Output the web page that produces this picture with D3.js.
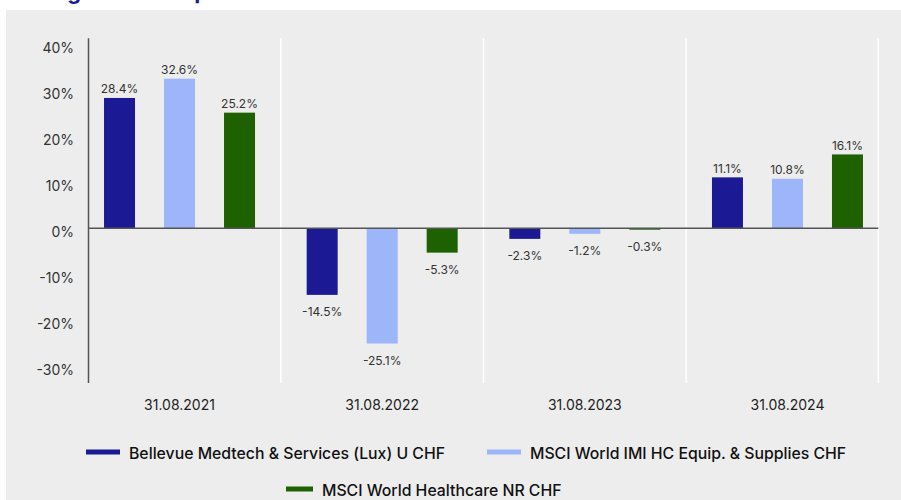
<!DOCTYPE html>
<html>
<head>
<meta charset="utf-8">
<script src="https://cdn.jsdelivr.net/npm/d3@7"></script>
<style>
  body { margin: 0; background: #fff; }
  text { font-family: Inter, "Noto Sans", sans-serif; }
</style>
</head>
<body>
<div class="bar_chart"></div>
<script>
// data
const categories = ["31.08.2021", "31.08.2022", "31.08.2023", "31.08.2024"];
const series = [
  "Bellevue Medtech & Services (Lux) U CHF",
  "MSCI World IMI HC Equip. & Supplies CHF",
  "MSCI World Healthcare NR CHF",
];
const fundValues = [28.4, -14.5, -2.3, 11.1];
const equipValues = [32.6, -25.1, -1.2, 10.8];
const healthValues = [25.2, -5.3, -0.3, 16.1];
const yTicks = [-30, -20, -10, 0, 10, 20, 30, 40];

const colors = ["#1b1a94", "#9db5f9", "#1e6100"];
const seriesValues = [fundValues, equipValues, healthValues];

const width = 901, height = 500;
const axisX = 88.5, plotRight = 878.3, plotTop = 38.3, plotBottom = 383;

var svg = d3.select(".bar_chart")
  .append("svg")
  .attr("width", width)
  .attr("height", height);

// panel background
svg.append("rect")
  .attr("x", 6).attr("y", 10)
  .attr("width", width - 6).attr("height", height - 10)
  .attr("fill", "#ededed");

// title, cropped at the top like in the original picture
svg.append("text")
  .attr("x", 8).attr("y", -1)
  .attr("fill", "#1b1a94")
  .style("font-size", "22px")
  .style("font-weight", "700")
  .text("Rolling 12-month performance");

var y = d3.scaleLinear().domain([-33.7, 41.4]).range([plotBottom, plotTop]);
var x0 = d3.scaleBand().domain(categories).range([78.2, 888.8]).padding(0);
var x1 = d3.scaleBand().domain(series).range([-90, 90])
  .paddingInner(29 / 60).paddingOuter(29 / 120);

// white separators between the periods
var seps = categories.slice(1).map((c) => x0(c)).concat([plotRight]);
svg.selectAll("line.sep")
  .data(seps)
  .enter()
  .append("line")
  .attr("class", "sep")
  .attr("x1", (d) => d).attr("x2", (d) => d)
  .attr("y1", plotTop).attr("y2", plotBottom)
  .attr("stroke", "#fff")
  .attr("stroke-width", 1.5);

// y tick labels
svg.selectAll("text.ytick")
  .data(yTicks)
  .enter()
  .append("text")
  .attr("class", "ytick")
  .attr("x", 74)
  .attr("y", (d) => y(d) + 3)
  .attr("text-anchor", "end")
  .attr("dominant-baseline", "central")
  .attr("fill", "#333")
  .style("font-size", "14px")
  .text((d) => d + "%");

// bars
var rows = [];
series.forEach((s, si) => {
  categories.forEach((c, ci) => {
    rows.push({ s: s, si: si, c: c, v: seriesValues[si][ci] });
  });
});

var cx = (d) => x0(d.c) + x0.bandwidth() / 2 + x1(d.s);

svg.selectAll("rect.bar")
  .data(rows)
  .enter()
  .append("rect")
  .attr("class", "bar")
  .attr("x", cx)
  .attr("width", x1.bandwidth())
  .attr("y", (d) => y(Math.max(0, d.v)))
  .attr("height", (d) => Math.abs(y(d.v) - y(0)))
  .attr("fill", (d) => colors[d.si]);

svg.selectAll("text.val")
  .data(rows)
  .enter()
  .append("text")
  .attr("class", "val")
  .attr("x", (d) => cx(d) + x1.bandwidth() / 2)
  .attr("y", (d) => (d.v >= 0 ? y(d.v) - 9 : y(d.v) + 16.5))
  .attr("text-anchor", "middle")
  .attr("dominant-baseline", "central")
  .attr("fill", "#333")
  .style("font-size", "12px")
  .text((d) => d.v.toFixed(1) + "%");

// axis lines
svg.append("line")
  .attr("x1", axisX).attr("x2", axisX)
  .attr("y1", plotTop).attr("y2", plotBottom)
  .attr("stroke", "#555").attr("stroke-width", 1.5);

svg.append("line")
  .attr("x1", axisX).attr("x2", plotRight)
  .attr("y1", y(0)).attr("y2", y(0))
  .attr("stroke", "#555").attr("stroke-width", 1.5);

// category labels
svg.selectAll("text.cat")
  .data(categories)
  .enter()
  .append("text")
  .attr("class", "cat")
  .attr("x", (d) => x0(d) + x0.bandwidth() / 2)
  .attr("y", 404)
  .attr("text-anchor", "middle")
  .attr("dominant-baseline", "central")
  .attr("fill", "#222")
  .style("font-size", "14px")
  .text((d) => d);

// legend
var legendPos = [
  { x: 86, y: 452, w: 34 },
  { x: 487, y: 452, w: 34 },
  { x: 286, y: 489, w: 27 },
];
var legend = svg.selectAll("g.legend")
  .data(series)
  .enter()
  .append("g")
  .attr("class", "legend")
  .attr("transform", (d, i) => "translate(" + legendPos[i].x + "," + legendPos[i].y + ")");

legend.append("rect")
  .attr("x", 0).attr("y", -2.5)
  .attr("width", (d, i) => legendPos[i].w)
  .attr("height", 5)
  .attr("fill", (d, i) => colors[i]);

legend.append("text")
  .attr("x", (d, i) => legendPos[i].w + 9)
  .attr("y", 1)
  .attr("dominant-baseline", "central")
  .attr("fill", "#111")
  .style("font-size", "15.8px")
  .style("font-weight", "500")
  .text((d) => d);
</script>
</body>
</html>
